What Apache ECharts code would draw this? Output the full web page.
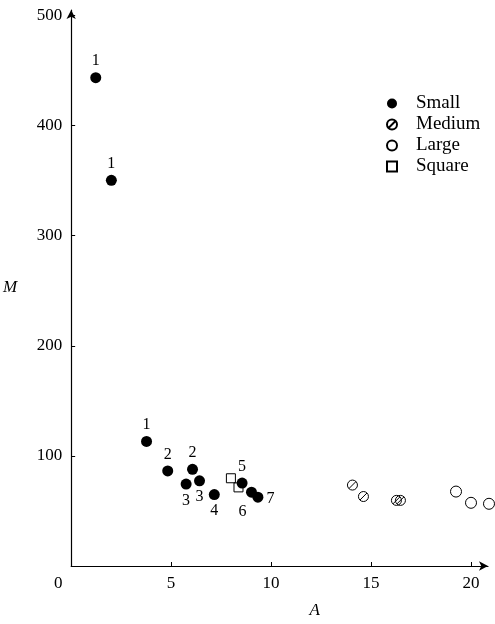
<!DOCTYPE html>
<html>
<head>
<meta charset="utf-8">
<script src="https://cdn.jsdelivr.net/npm/echarts@6/dist/echarts.min.js"></script>
<style>
html,body{margin:0;padding:0;background:#fff;}
#c{width:495px;height:624px;}
</style>
</head>
<body>
<div id="c"></div>
<script>
// ---- data ----
const smallA = [1.23, 2.01, 3.77, 4.83, 6.07, 5.75, 6.42, 7.16, 8.55, 9.02, 9.34];
const smallM = [443.5, 350.3, 113.1, 86.3, 87.8, 74.4, 77.4, 64.9, 75.3, 67.0, 62.5];
const smallLabels = ['1', '1', '1', '2', '2', '3', '3', '4', '5', '6', '7'];
const mediumA = [14.07, 14.62, 16.27, 16.47];
const mediumM = [73.5, 63.1, 59.6, 59.6];
const largeA = [19.25, 20.0, 20.9];
const largeM = [67.6, 57.4, 56.5];
const squareA = [7.99, 8.37];
const squareM = [79.7, 71.4];
const xTickValues = [5, 10, 15, 20];
const xLabelValues = [0, 5, 10, 15, 20];
const yTickValues = [100, 200, 300, 400, 500];
const seriesNames = ['Small', 'Medium', 'Large', 'Square'];

// ---- styling helpers ----
const FONT = 'Liberation Serif';
const MEDIUM_PATH = 'path://M10 0A10 10 0 1 1 10 20A10 10 0 1 1 10 0ZM3 17L17 3';
const SQUARE_PATH = 'path://M0 0L10 0L10 10L0 10Z';
const labelPlacement = {
  top: {position: 'top', distance: 3, offset: [0, 0]},
  bottom: {position: 'bottom', distance: 3, offset: [0, 0]},
  bottomL: {position: 'bottom', distance: 3, offset: [-9, 3]},
  right: {position: 'right', distance: 3, offset: [0, 2]}
};
const placeKeys = ['top','top','top','top','top','bottom','bottom','bottom','top','bottomL','right'];

const zip = (a, b) => a.map((v, i) => [v, b[i]]);

const smallData = smallA.map((a, i) => {
  const p = labelPlacement[placeKeys[i]];
  return {
    value: [a, smallM[i]],
    label: {
      show: true,
      formatter: smallLabels[i],
      position: p.position,
      distance: p.distance,
      offset: p.offset
    }
  };
});

const axisLineStyle = {color: '#000', width: 1.2};

const option = {
  backgroundColor: '#fff',
  animation: false,
  textStyle: {fontFamily: FONT, color: '#000'},
  grid: {left: 69, right: 7, top: 10, bottom: 49, containLabel: false},
  legend: {
    orient: 'vertical',
    left: 381,
    top: 89,
    itemWidth: 38,
    itemHeight: 10,
    itemGap: 2,
    symbolKeepAspect: true,
    textStyle: {fontFamily: FONT, fontSize: 19, color: '#000', lineHeight: 19},
    data: [
      {name: seriesNames[0], icon: 'circle'},
      {name: seriesNames[1], icon: MEDIUM_PATH},
      {name: seriesNames[2], icon: 'circle'},
      {name: seriesNames[3], icon: SQUARE_PATH}
    ]
  },
  xAxis: {
    type: 'value',
    min: 0,
    max: 20.85,
    name: 'A',
    nameLocation: 'middle',
    nameGap: 36,
    nameTextStyle: {fontFamily: FONT, fontStyle: 'italic', fontSize: 17, color: '#000', padding: [0, 0, 0, 70]},
    axisLine: {show: true, onZero: false, lineStyle: axisLineStyle, symbol: ['none', 'arrow'], symbolSize: [7, 9]},
    axisTick: {show: true, inside: true, length: 4, customValues: xTickValues, lineStyle: {color: '#000'}},
    axisLabel: {
      show: true, margin: 9, customValues: xLabelValues,
      fontFamily: FONT, fontSize: 17, color: '#000',
      formatter: v => v === 0 ? '{o|0}' : String(v),
      rich: {o: {fontFamily: FONT, fontSize: 17, color: '#000', padding: [0, 26, 0, 0]}}
    },
    splitLine: {show: false}
  },
  yAxis: {
    type: 'value',
    min: 0,
    max: 505,
    name: 'M',
    nameLocation: 'middle',
    nameGap: 54,
    nameRotate: 0,
    nameTextStyle: {fontFamily: FONT, fontStyle: 'italic', fontSize: 17, color: '#000'},
    axisLine: {show: true, onZero: false, lineStyle: axisLineStyle, symbol: ['none', 'arrow'], symbolSize: [7, 9]},
    axisTick: {show: true, inside: true, length: 4, customValues: yTickValues, lineStyle: {color: '#000'}},
    axisLabel: {show: true, margin: 9, customValues: yTickValues, fontFamily: FONT, fontSize: 17, color: '#000'},
    splitLine: {show: false}
  },
  series: [
    {
      name: seriesNames[3], type: 'scatter', clip: false, z: 2,
      symbol: SQUARE_PATH, symbolSize: 9,
      itemStyle: {color: 'rgba(0,0,0,0)', borderColor: '#000', borderWidth: 1, opacity: 1},
      data: zip(squareA, squareM)
    },
    {
      name: seriesNames[0], type: 'scatter', clip: false, z: 3,
      symbol: 'circle', symbolSize: 11,
      itemStyle: {color: '#000', opacity: 1},
      label: {fontFamily: FONT, fontSize: 16, color: '#000'},
      data: smallData
    },
    {
      name: seriesNames[1], type: 'scatter', clip: false, z: 3,
      symbol: MEDIUM_PATH, symbolSize: 10,
      itemStyle: {color: 'rgba(0,0,0,0)', borderColor: '#000', borderWidth: 1, opacity: 1},
      data: zip(mediumA, mediumM)
    },
    {
      name: seriesNames[2], type: 'scatter', clip: false, z: 3,
      symbol: 'circle', symbolSize: 11,
      itemStyle: {color: 'rgba(0,0,0,0)', borderColor: '#000', borderWidth: 1, opacity: 1},
      data: zip(largeA, largeM)
    }
  ]
};

const chart = echarts.init(document.getElementById('c'), null, {renderer: 'canvas'});
chart.setOption(option);
</script>
</body>
</html>
